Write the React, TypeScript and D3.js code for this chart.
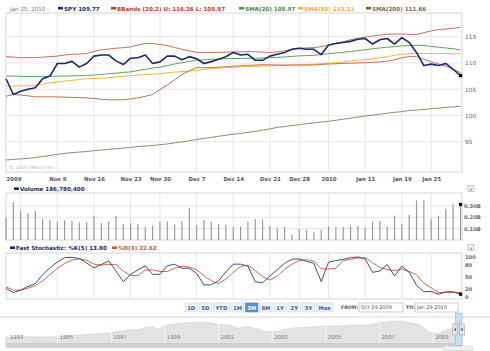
import { useEffect, useRef } from 'react'
import * as d3 from 'd3'

// trading days shown on the 3M view
const tradingDays = [
  '2009-10-29', '2009-10-30',
  '2009-11-02', '2009-11-03', '2009-11-04', '2009-11-05', '2009-11-06',
  '2009-11-09', '2009-11-10', '2009-11-11', '2009-11-12', '2009-11-13',
  '2009-11-16', '2009-11-17', '2009-11-18', '2009-11-19', '2009-11-20',
  '2009-11-23', '2009-11-24', '2009-11-25', '2009-11-27',
  '2009-11-30', '2009-12-01', '2009-12-02', '2009-12-03', '2009-12-04',
  '2009-12-07', '2009-12-08', '2009-12-09', '2009-12-10', '2009-12-11',
  '2009-12-14', '2009-12-15', '2009-12-16', '2009-12-17', '2009-12-18',
  '2009-12-21', '2009-12-22', '2009-12-23', '2009-12-24',
  '2009-12-28', '2009-12-29', '2009-12-30', '2009-12-31',
  '2010-01-04', '2010-01-05', '2010-01-06', '2010-01-07', '2010-01-08',
  '2010-01-11', '2010-01-12', '2010-01-13', '2010-01-14', '2010-01-15',
  '2010-01-19', '2010-01-20', '2010-01-21', '2010-01-22',
  '2010-01-25', '2010-01-26', '2010-01-27', '2010-01-28', '2010-01-29',
]

const tickDates = [
  '2009-11-02', '2009-11-09', '2009-11-16', '2009-11-23', '2009-11-30', '2009-12-07',
  '2009-12-14', '2009-12-21', '2009-12-28', '2010-01-04', '2010-01-11', '2010-01-19', '2010-01-25',
]
const tickLabels = [
  '2009', 'Nov 9', 'Nov 16', 'Nov 23', 'Nov 30', 'Dec 7',
  'Dec 14', 'Dec 21', 'Dec 28', '2010', 'Jan 11', 'Jan 19', 'Jan 25',
]

const spy = [
  107.0, 104.0, 104.6, 105.0, 105.3, 107.0, 107.5, 109.9, 109.9, 110.3,
  109.2, 109.9, 111.3, 111.5, 111.5, 110.4, 109.7, 110.9, 111.0, 111.5,
  109.9, 110.2, 111.3, 111.3, 110.6, 111.2, 110.8, 109.9, 110.25, 110.7,
  111.2, 112.0, 111.5, 111.65, 110.5, 110.5, 111.3, 111.65, 112.0, 112.6,
  112.8, 112.6, 112.6, 111.6, 113.4, 113.7, 113.9, 114.1, 114.5, 114.65,
  113.6, 114.4, 114.65, 113.6, 114.8, 113.9, 112.0, 109.5, 109.77, 109.5,
  109.9, 108.8, 107.6,
]
const bbUpper = [
  111.2, 111.1, 111.0, 111.0, 111.0, 111.1, 111.2, 111.3, 111.5, 111.65,
  111.7, 111.8, 112.2, 112.5, 112.65, 112.8, 112.9, 113.05, 113.4, 113.7,
  113.7, 113.5, 113.3, 112.95, 112.6, 112.3, 112.0, 112.0, 112.0, 112.0,
  112.05, 112.1, 112.1, 112.15, 112.15, 112.05, 112.0, 112.1, 112.3, 112.55,
  112.8, 112.85, 112.9, 113.1, 113.4, 113.75, 114.05, 114.4, 114.7, 114.9,
  115.1, 115.3, 115.45, 115.5, 115.5, 115.45, 115.4, 115.75, 116.1, 116.35,
  116.45, 116.6, 116.75,
]
const bbLower = [
  103.67, 104.0, 103.9, 103.75, 103.55, 103.55, 103.55, 103.55, 103.5, 103.45,
  103.4, 103.35, 103.25, 103.1, 103.0, 103.0, 103.0, 103.15, 103.35, 103.65,
  104.0, 104.95, 105.8, 106.8, 107.8, 108.5, 109.1, 109.1, 109.1, 109.2,
  109.3, 109.4, 109.45, 109.55, 109.6, 109.65, 109.65, 109.6, 109.6, 109.6,
  109.6, 109.6, 109.6, 109.7, 109.8, 109.85, 109.9, 109.95, 110.0, 110.05,
  110.1, 110.2, 110.35, 110.6, 111.0, 111.2, 111.2, 110.7, 110.2, 109.8,
  109.4, 108.8, 108.15,
]
const sma20 = [
  107.5, 107.5, 107.45, 107.4, 107.4, 107.4, 107.45, 107.5, 107.5, 107.55,
  107.55, 107.6, 107.7, 107.8, 107.95, 108.05, 108.2, 108.3, 108.55, 108.8,
  109.0, 109.2, 109.5, 109.8, 110.05, 110.3, 110.55, 110.6, 110.7, 110.75,
  110.8, 110.85, 110.85, 110.9, 110.9, 110.95, 111.0, 111.05, 111.15, 111.25,
  111.35, 111.4, 111.45, 111.6, 111.75, 111.9, 112.0, 112.2, 112.35, 112.5,
  112.7, 112.85, 113.0, 113.1, 113.25, 113.3, 113.37, 113.3, 113.15, 113.0,
  112.85, 112.7, 112.5,
]
const sma50 = [
  105.6, 105.6, 105.65, 105.65, 105.7, 105.95, 106.2, 106.35, 106.55, 106.7,
  106.85, 107.0, 107.05, 107.1, 107.2, 107.35, 107.45, 107.6, 107.7, 107.8,
  107.85, 107.95, 108.15, 108.25, 108.35, 108.45, 108.55, 108.8, 108.9, 109.0,
  109.1, 109.15, 109.25, 109.3, 109.35, 109.4, 109.45, 109.5, 109.55, 109.6,
  109.65, 109.7, 109.75, 109.85, 109.95, 110.05, 110.2, 110.35, 110.5, 110.6,
  110.8, 111.0, 111.2, 111.45, 111.65, 111.75, 111.8, 111.8, 111.8, 111.8,
  111.8, 111.75, 111.75,
]
const sma200 = [
  91.55, 91.65, 91.75, 91.85, 92.0, 92.2, 92.4, 92.6, 92.8, 92.95,
  93.05, 93.15, 93.3, 93.45, 93.55, 93.7, 93.8, 93.95, 94.1, 94.2,
  94.3, 94.45, 94.6, 94.8, 95.0, 95.2, 95.45, 95.65, 95.85, 96.05,
  96.25, 96.45, 96.6, 96.8, 97.0, 97.2, 97.45, 97.75, 97.9, 98.1,
  98.25, 98.45, 98.6, 98.75, 98.9, 99.1, 99.3, 99.5, 99.7, 99.9,
  100.1, 100.25, 100.45, 100.6, 100.75, 100.95, 101.05, 101.15, 101.3, 101.4,
  101.55, 101.65, 101.75,
]
// volume in millions of shares
const volume = [
  197, 332, 258, 235, 255, 185, 176, 162, 173, 173,
  156, 156, 211, 150, 162, 211, 141, 150, 141, 115,
  126, 162, 164, 135, 167, 279, 132, 176, 162, 141,
  132, 115, 120, 162, 185, 179, 123, 106, 115, 44,
  97, 91, 73, 91, 120, 115, 117, 126, 126, 109,
  164, 167, 120, 214, 144, 220, 349, 352, 187, 214,
  273, 314, 314,
]
const stochK = [
  21, 11, 17, 26, 33, 55, 72, 86, 97, 98,
  95, 84, 72, 80, 89, 64, 38, 56, 67, 77,
  56, 56, 77, 81, 71, 71, 58, 30, 30, 40,
  62, 81, 81, 76, 38, 35, 52, 67, 83, 93,
  94, 88, 83, 38, 86, 90, 93, 97, 99, 94,
  61, 64, 80, 52, 76, 61, 29, 13, 13.8, 7,
  13, 13, 7,
]
const stochD = [
  25, 17, 17, 22, 28, 40, 55, 71, 83, 91,
  94, 91, 81, 79, 80, 80, 64, 53, 53, 67,
  67, 63, 63, 71, 76, 74, 67, 53, 40, 33,
  44, 61, 75, 79, 65, 50, 42, 51, 68, 81,
  90, 92, 88, 70, 69, 71, 90, 93, 96, 97,
  85, 73, 68, 65, 69, 63, 55, 34, 22.62, 11,
  11, 11, 11,
]

const priceTicks = [95, 100, 105, 110, 115]
const volumeTicks = [100, 200, 300]
const stochTicks = [0, 20, 50, 80, 100]

const rangeButtons = ['1D', '5D', 'YTD', '1M', '3M', '6M', '1Y', '2Y', '5Y', 'Max']

// long history shown in the navigator strip
const historyDates = [
  '1993-01-29', '1993-07-01', '1994-01-01', '1994-07-01', '1995-01-01', '1995-07-01',
  '1996-01-01', '1996-07-01', '1997-01-01', '1997-07-01', '1998-01-01', '1998-07-01',
  '1998-10-01', '1999-01-01', '1999-07-01', '2000-01-01', '2000-07-01', '2001-01-01',
  '2001-07-01', '2001-10-01', '2002-01-01', '2002-07-01', '2002-10-01', '2003-03-01',
  '2003-07-01', '2004-01-01', '2004-07-01', '2005-01-01', '2005-07-01', '2006-01-01',
  '2006-07-01', '2007-01-01', '2007-10-01', '2008-01-01', '2008-07-01', '2008-11-20',
  '2009-03-09', '2009-07-01', '2010-01-19', '2010-01-29',
]
const historyValues = [
  44, 45, 47, 45, 46, 55,
  61, 67, 74, 89, 97, 115,
  99, 123, 137, 145, 145, 132,
  121, 107, 115, 97, 82, 84,
  98, 111, 113, 121, 120, 127,
  127, 142, 155, 146, 128, 76,
  68, 92, 115, 108,
]
const historyYears = ['1993', '1995', '1997', '1999', '2001', '2003', '2005', '2007', '2009']

export default function App() {
  const svgRef = useRef<SVGSVGElement>(null)

  useEffect(() => {
    document.body.style.margin = '0'
    if (!svgRef.current) return
    const svg = d3.select(svgRef.current)
    svg.selectAll('*').remove()

    const font = 'DejaVu Sans, Verdana, sans-serif'
    const left = 6
    const right = 462
    const idx = d3.range(tradingDays.length)

    const x = d3.scalePoint<string>().domain(tradingDays).range([6, 460.5])
    const xi = (i: number) => x(tradingDays[i]) as number

    const panel = (top: number, bottom: number) => {
      const g = svg.append('g')
      g.append('rect')
        .attr('x', left).attr('y', top)
        .attr('width', right - left).attr('height', bottom - top)
        .attr('fill', '#fff').attr('stroke', '#d6d6d6')
      g.selectAll('.vgrid')
        .data(tickDates)
        .enter()
        .append('line')
        .attr('x1', (d) => x(d) as number).attr('x2', (d) => x(d) as number)
        .attr('y1', top).attr('y2', bottom)
        .attr('stroke', '#e6e6e6')
      return g
    }

    const styleAxis = (g: any, size: number, bold: boolean) => {
      g.select('.domain').remove()
      g.selectAll('text')
        .attr('fill', '#666')
        .attr('font-size', size)
        .attr('font-family', font)
        .attr('font-weight', bold ? 'bold' : 'normal')
    }

    const legendItem = (g: any, lx: number, ly: number, color: string, label: string, textColor?: string) => {
      g.append('rect').attr('x', lx).attr('y', ly - 3.6).attr('width', 5).attr('height', 2.6).attr('fill', color)
      g.append('text')
        .attr('x', lx + 6).attr('y', ly)
        .attr('fill', textColor || color)
        .attr('font-size', 5.6).attr('font-weight', 'bold').attr('font-family', font)
        .text(label)
    }

    const closeBox = (cy: number) => {
      svg.append('rect').attr('x', 468).attr('y', cy - 3.5).attr('width', 6).attr('height', 6)
        .attr('fill', '#f3f3f3').attr('stroke', '#aaa').attr('stroke-width', 0.6)
      svg.append('text').attr('x', 471).attr('y', cy + 1.5).attr('text-anchor', 'middle')
        .attr('font-size', 4.5).attr('font-family', font).attr('fill', '#555').text('x')
    }

    // ---------- main price panel ----------
    const mTop = 13
    const mBottom = 172
    const yMain = d3.scaleLinear().domain([89.26, 119.5]).range([mBottom, mTop])
    const main = panel(mTop, mBottom)

    main.selectAll('.hgrid')
      .data(priceTicks)
      .enter()
      .append('line')
      .attr('x1', left).attr('x2', right)
      .attr('y1', (d) => yMain(d)).attr('y2', (d) => yMain(d))
      .attr('stroke', '#e6e6e6')

    const yAxisMain = svg.append('g')
      .attr('transform', `translate(${right},0)`)
      .call(d3.axisRight(yMain).tickValues(priceTicks).tickSize(0).tickPadding(3))
    styleAxis(yAxisMain, 5.8, false)

    const priceLine = (values: number[]) =>
      d3.line<number>().x((i) => xi(i)).y((i) => yMain(values[i]))(idx)

    const overlays: [number[], string, number][] = [
      [sma200, '#8c7b5c', 0.9],
      [sma50, '#f3b640', 1],
      [sma20, '#5fa25f', 1],
      [bbUpper, '#c4705c', 1],
      [bbLower, '#c4705c', 1],
    ]
    overlays.forEach(([vals, color, w]) => {
      main.append('path').attr('d', priceLine(vals))
        .attr('fill', 'none').attr('stroke', color).attr('stroke-width', w)
    })
    main.append('path').attr('d', priceLine(spy))
      .attr('fill', 'none').attr('stroke', '#1c2a68').attr('stroke-width', 1.6)
      .attr('stroke-linejoin', 'round')
    main.append('rect')
      .attr('x', xi(spy.length - 1) - 1.7).attr('y', yMain(spy[spy.length - 1]) - 1.7)
      .attr('width', 3.4).attr('height', 3.4).attr('fill', '#000')

    main.append('text').attr('x', 9).attr('y', 169)
      .attr('font-size', 4.8).attr('font-family', font).attr('fill', '#bbb')
      .text('© 2008 Yahoo! Inc')

    // top legend
    const legend = svg.append('g')
    legend.append('text').attr('x', 10).attr('y', 10.5)
      .attr('font-size', 5.6).attr('font-family', font).attr('fill', '#777')
      .text('Jan 25, 2010 :')
    legendItem(legend, 58, 10.5, '#1c2a68', 'SPY 109.77')
    legendItem(legend, 111, 10.5, '#c0392b', 'BBands (20,2)  U: 116.26  L: 109.97')
    legendItem(legend, 239, 10.5, '#3f9a3f', 'SMA(20) 109.97', '#3f8a4f')
    legendItem(legend, 298, 10.5, '#f3b640', 'SMA(50) 113.11', '#f0ad38')
    legendItem(legend, 366, 10.5, '#6e5f45', 'SMA(200) 111.66', '#7a6a4e')

    // x axis labels
    const xAxis = svg.append('g')
      .attr('transform', `translate(0,${mBottom + 1})`)
      .call(d3.axisBottom(x).tickValues(tickDates).tickSize(0).tickPadding(4)
        .tickFormat((_d, i) => tickLabels[i]))
    styleAxis(xAxis, 5.4, true)
    xAxis.selectAll('text').attr('fill', '#555')
    xAxis.select('.tick text').attr('text-anchor', 'start')
      .attr('x', left - (x(tickDates[0]) as number))

    // ---------- volume panel ----------
    const vTop = 193
    const vBottom = 240
    const yVol = d3.scaleLinear().domain([0, 414.5]).range([vBottom, vTop])
    legendItem(svg, 14, 191, '#1c2a68', 'Volume 186,780,400')
    closeBox(189)
    const vol = panel(vTop, vBottom)
    vol.selectAll('.hgrid')
      .data(volumeTicks)
      .enter()
      .append('line')
      .attr('x1', left).attr('x2', right)
      .attr('y1', (d) => yVol(d)).attr('y2', (d) => yVol(d))
      .attr('stroke', '#e6e6e6')
    vol.selectAll('.bar')
      .data(idx)
      .enter()
      .append('line')
      .attr('x1', (i) => xi(i)).attr('x2', (i) => xi(i))
      .attr('y1', vBottom).attr('y2', (i) => yVol(volume[i]))
      .attr('stroke', '#9a9a9a').attr('stroke-width', 1.2)
    vol.append('rect')
      .attr('x', xi(volume.length - 1) - 1.6).attr('y', yVol(volume[volume.length - 1]) - 1.6)
      .attr('width', 3.2).attr('height', 3.2).attr('fill', '#000')
    const yAxisVol = svg.append('g')
      .attr('transform', `translate(${right},0)`)
      .call(d3.axisRight(yVol).tickValues(volumeTicks).tickSize(0).tickPadding(2)
        .tickFormat((d) => (Number(d) / 1000).toFixed(2) + 'B'))
    styleAxis(yAxisVol, 5.2, true)

    // ---------- stochastic panel ----------
    const sTop = 253
    const sBottom = 299
    const yStoch = d3.scaleLinear().domain([-4.9, 108.6]).range([sBottom, sTop])
    legendItem(svg, 10, 250, '#1c2a68', 'Fast Stochastic: %K(5) 13.80')
    legendItem(svg, 112, 250, '#d0582e', '%D(3) 22.62')
    closeBox(248)
    const st = panel(sTop, sBottom)
    const stochLine = (values: number[]) =>
      d3.line<number>().x((i) => xi(i)).y((i) => yStoch(values[i]))(idx)
    st.append('path').attr('d', stochLine(stochD))
      .attr('fill', 'none').attr('stroke', '#d0582e').attr('stroke-width', 0.9)
    st.append('path').attr('d', stochLine(stochK))
      .attr('fill', 'none').attr('stroke', '#2a3a80').attr('stroke-width', 0.9)
    st.append('rect')
      .attr('x', xi(stochK.length - 1) - 1.6).attr('y', yStoch(stochK[stochK.length - 1]) - 1.6)
      .attr('width', 3.2).attr('height', 3.2).attr('fill', '#000')
    const yAxisSt = svg.append('g')
      .attr('transform', `translate(${right},0)`)
      .call(d3.axisRight(yStoch).tickValues(stochTicks).tickSize(0).tickPadding(3))
    styleAxis(yAxisSt, 5.2, true)

    // ---------- range buttons ----------
    const btnY = 303
    let bx = 185
    rangeButtons.forEach((b) => {
      const w = 5 + b.length * 3.7
      const sel = b === '3M'
      svg.append('rect').attr('x', bx).attr('y', btnY).attr('width', w).attr('height', 9)
        .attr('fill', sel ? '#5b8fd0' : '#eef2f8').attr('stroke', sel ? '#4a7cc0' : '#cfd6e2')
        .attr('stroke-width', 0.6)
      svg.append('text').attr('x', bx + w / 2).attr('y', btnY + 6.5).attr('text-anchor', 'middle')
        .attr('font-size', 5.3).attr('font-weight', 'bold').attr('font-family', font)
        .attr('fill', sel ? '#fff' : '#3b5b98').text(b)
      bx += w + 1.8
    })
    svg.append('text').attr('x', 341).attr('y', btnY + 6.3)
      .attr('font-size', 4.7).attr('font-weight', 'bold').attr('font-family', font).attr('fill', '#555')
      .text('FROM:')
    svg.append('rect').attr('x', 359).attr('y', btnY).attr('width', 44).attr('height', 9)
      .attr('fill', '#fff').attr('stroke', '#aaa').attr('stroke-width', 0.6)
    svg.append('text').attr('x', 361).attr('y', btnY + 6.3)
      .attr('font-size', 5).attr('font-family', font).attr('fill', '#555').text('Oct 29 2009')
    svg.append('text').attr('x', 406).attr('y', btnY + 6.3)
      .attr('font-size', 4.7).attr('font-weight', 'bold').attr('font-family', font).attr('fill', '#555')
      .text('TO:')
    svg.append('rect').attr('x', 415).attr('y', btnY).attr('width', 43).attr('height', 9)
      .attr('fill', '#fff').attr('stroke', '#aaa').attr('stroke-width', 0.6)
    svg.append('text').attr('x', 417).attr('y', btnY + 6.3)
      .attr('font-size', 5).attr('font-family', font).attr('fill', '#555').text('Jan 29 2010')

    // ---------- navigator strip ----------
    const parse = d3.timeParse('%Y-%m-%d')
    const hx = d3.scaleTime()
      .domain([parse('1993-01-29') as Date, parse('2010-01-29') as Date])
      .range([left, right])
    const hy = d3.scaleLinear().domain([0, 155]).range([343.5, 321])
    const nTop = 317
    const nBottom = 343.5
    svg.append('line').attr('x1', 0).attr('x2', 490).attr('y1', nTop).attr('y2', nTop)
      .attr('stroke', '#d4d4d4')
    const area = d3.area<number>()
      .x((i) => hx(parse(historyDates[i]) as Date))
      .y0(nBottom)
      .y1((i) => hy(historyValues[i]))
      .curve(d3.curveMonotoneX)
    svg.append('path').attr('d', area(d3.range(historyDates.length)))
      .attr('fill', '#e3e3e3').attr('stroke', '#cfcfcf').attr('stroke-width', 0.6)
    historyYears.forEach((yr, i) => {
      const px = hx(parse(`${yr}-01-01`) as Date)
      if (i > 0) {
        svg.append('line').attr('x1', px).attr('x2', px).attr('y1', nTop + 2).attr('y2', nBottom)
          .attr('stroke', '#fafafa').attr('stroke-width', 0.8)
      }
      svg.append('text').attr('x', i === 0 ? 10 : px + 2).attr('y', 339)
        .attr('font-size', 5.3).attr('font-family', font).attr('fill', '#777').text(yr)
    })
    svg.append('rect').attr('x', left).attr('y', nBottom).attr('width', right - left).attr('height', 4)
      .attr('fill', '#d2d2d2').attr('stroke', '#c2c2c2').attr('stroke-width', 0.5)
    svg.append('rect').attr('x', 443).attr('y', 346).attr('width', 30).attr('height', 4.5)
      .attr('fill', '#f0f0f0').attr('stroke', '#c8c8c8').attr('stroke-width', 0.5)

    // selected window handle
    const hs = hx(parse('2009-10-29') as Date)
    svg.append('rect').attr('x', hs).attr('y', nTop - 4).attr('width', right - hs).attr('height', nBottom - nTop + 6)
      .attr('fill', '#c9def4').attr('stroke', '#8fb4dc').attr('stroke-width', 0.6)
    ;[hs - 2.5, right - 2.5].forEach((gx) => {
      svg.append('rect').attr('x', gx).attr('y', 324).attr('width', 5).attr('height', 11)
        .attr('fill', '#e4e4e4').attr('stroke', '#999').attr('stroke-width', 0.5)
      svg.append('rect').attr('x', gx + 1.8).attr('y', 328.5).attr('width', 1.4).attr('height', 2)
        .attr('fill', '#333')
    })
  }, [])

  return <svg ref={svgRef} width={490} height={351} style={{ display: 'block', background: '#fff' }} />
}
